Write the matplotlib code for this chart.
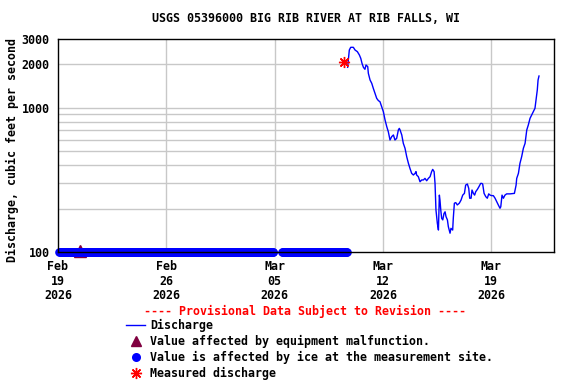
import matplotlib
matplotlib.use('Agg')
import matplotlib.pyplot as plt
import pandas as pd

# Data (days since 2026-02-19 00:00, cubic feet per second)
start = pd.Timestamp('2026-02-19 00:00')
flow_days = [18.72, 18.83, 18.92, 19.09, 19.20, 19.35, 19.48, 19.57, 19.65, 19.74,
             19.84, 19.91, 20.02, 20.06, 20.17, 20.28, 20.38, 20.49, 20.60, 20.71,
             20.81, 20.92, 21.03, 21.14, 21.25, 21.35, 21.46, 21.57, 21.68, 21.78,
             21.89, 22.00, 22.06, 22.11, 22.22, 22.32, 22.43, 22.54, 22.65, 22.75,
             22.86, 22.97, 23.08, 23.14, 23.18, 23.29, 23.40, 23.51, 23.62, 23.72,
             23.83, 23.94, 24.05, 24.15, 24.22, 24.31, 24.37, 24.43, 24.52, 24.59,
             24.65, 24.69, 24.74, 24.80, 24.87, 24.95, 25.02, 25.08, 25.17, 25.23,
             25.34, 25.40, 25.51, 25.55, 25.62, 25.71, 25.81, 25.94, 26.05, 26.16,
             26.27, 26.35, 26.46, 26.55, 26.61, 26.70, 26.76, 26.85, 26.93, 27.00,
             27.11, 27.21, 27.32, 27.39, 27.45, 27.54, 27.65, 27.75, 27.84, 27.93,
             28.03, 28.14, 28.25, 28.36, 28.46, 28.57, 28.62, 28.70, 28.79, 28.89,
             29.00, 29.22, 29.50, 29.61, 29.65, 29.76, 29.86, 29.97, 30.08, 30.19,
             30.30, 30.40, 30.51, 30.62, 30.73, 30.83, 30.90, 30.98, 31.03, 31.09]
flow_cfs = [1909, 2516, 2627, 2627, 2516, 2451, 2324, 2203, 2034, 1909,
            1849, 1981, 1929, 1734, 1559, 1478, 1365, 1260, 1163, 1121,
            1103, 1018, 940, 823, 740, 683, 598, 631, 648, 598,
            614, 702, 720, 702, 648, 567, 524, 458, 412, 380,
            351, 342, 351, 361, 342, 333, 307, 316, 316, 324,
            312, 324, 333, 361, 374, 361, 299, 196, 158, 142,
            248, 229, 196, 171, 167, 185, 190, 176, 167, 150,
            135, 146, 142, 171, 218, 220, 212, 218, 229, 248,
            255, 291, 296, 276, 236, 236, 269, 255, 248, 262,
            272, 284, 299, 299, 296, 255, 242, 236, 253, 248,
            246, 246, 236, 223, 212, 201, 206, 248, 236, 248,
            253, 253, 255, 291, 324, 351, 412, 458, 524, 567,
            702, 760, 845, 892, 940, 992, 1133, 1329, 1559, 1661]

# periods where the value is affected by ice (plotted along the bottom)
ice_periods = [('2026-02-19 02:00', '2026-03-04 22:00'),
               ('2026-03-05 11:30', '2026-03-09 17:00')]
ice_level = 100

equip_time = ['2026-02-20 10:00']
equip_cfs = [101]

measured_time = ['2026-03-09 12:15']
measured_cfs = [2090]

title = 'USGS 05396000 BIG RIB RIVER AT RIB FALLS, WI'
y_ticks = [100, 1000, 2000, 3000]
x_ticks = ['2026-02-19', '2026-02-26', '2026-03-05', '2026-03-12', '2026-03-19']

font = {'family': 'DejaVu Sans Mono', 'weight': 'bold', 'size': 8.4}

flow_time = start + pd.to_timedelta(flow_days, unit='D')
ice_time = pd.DatetimeIndex([])
for a, b in ice_periods:
    ice_time = ice_time.append(pd.date_range(a, b, freq='1h'))

fig = plt.figure(figsize=(5.76, 3.84), dpi=100)
ax = fig.add_axes([58 / 576, 1 - 252 / 384, 496 / 576, 213 / 384])

ax.set_yscale('log')
ax.set_ylim(100, 3000)
ax.set_xlim(start, start + pd.Timedelta(days=32.06))

# grid: every hundred below 1000, then 2000
grid_vals = [200, 300, 400, 500, 600, 700, 800, 900, 1000, 2000]
for g in grid_vals:
    ax.axhline(g, color='#c8c8c8', lw=1, zorder=1)
for t in x_ticks[1:]:
    ax.axvline(pd.Timestamp(t), color='#c8c8c8', lw=1, zorder=1)

ax.plot(pd.to_datetime(equip_time), equip_cfs, marker='^', ls='none',
        color='#800040', ms=9, clip_on=False, zorder=3)
ax.plot(ice_time, [ice_level] * len(ice_time), 'o', color='#0000ff', ms=6.2,
        mec='none', clip_on=False, zorder=4)
ax.plot(flow_time, flow_cfs, color='#0000ff', lw=1, zorder=5)
ax.plot(pd.to_datetime(measured_time), measured_cfs, marker=(8, 2, 0), ls='none',
        color='#ff0000', mec='#ff0000', ms=8, mew=1, zorder=6)

ax.set_yticks(y_ticks)
ax.set_yticklabels([str(v) for v in y_ticks], fontdict=font)
ax.yaxis.set_minor_locator(matplotlib.ticker.NullLocator())
ax.set_xticks(pd.to_datetime(x_ticks))
ax.set_xticklabels([pd.Timestamp(t).strftime('%b\n%d\n%Y') for t in x_ticks],
                   fontdict=font, linespacing=1.15)
ax.tick_params(axis='both', length=0, pad=6)
for s in ax.spines.values():
    s.set_linewidth(1)
    s.set_zorder(7)

fig.text(306 / 576, 1 - 19 / 384, title, ha='center', va='center', **font)
fig.text(12 / 576, 1 - 150 / 384, 'Discharge, cubic feet per second', rotation=90,
         ha='center', va='center', **font)

# legend drawn by hand to match the USGS layout
fig.text(305 / 576, 1 - 311 / 384, '---- Provisional Data Subject to Revision ----',
         ha='center', va='center', color='#ff0000', **font)
legend_items = ['Discharge',
                'Value affected by equipment malfunction.',
                'Value is affected by ice at the measurement site.',
                'Measured discharge']
legend_y = [325, 341, 357, 373]
for label, yy in zip(legend_items, legend_y):
    fig.text(150 / 576, 1 - yy / 384, label, ha='left', va='center', **font)
fy = [1 - v / 384 for v in legend_y]
fig.add_artist(plt.Line2D([126 / 576, 145 / 576], [fy[0], fy[0]], color='#0000ff', lw=1))
fig.add_artist(plt.Line2D([136 / 576], [fy[1]], marker='^', color='#800040', ms=7))
fig.add_artist(plt.Line2D([136 / 576], [fy[2]], marker='o', color='#0000ff', ms=6.5, mec='none'))
fig.add_artist(plt.Line2D([136 / 576], [fy[3]], marker=(8, 2, 0), color='#ff0000', ms=8, mew=1))

fig.savefig('out.png', dpi=100)
